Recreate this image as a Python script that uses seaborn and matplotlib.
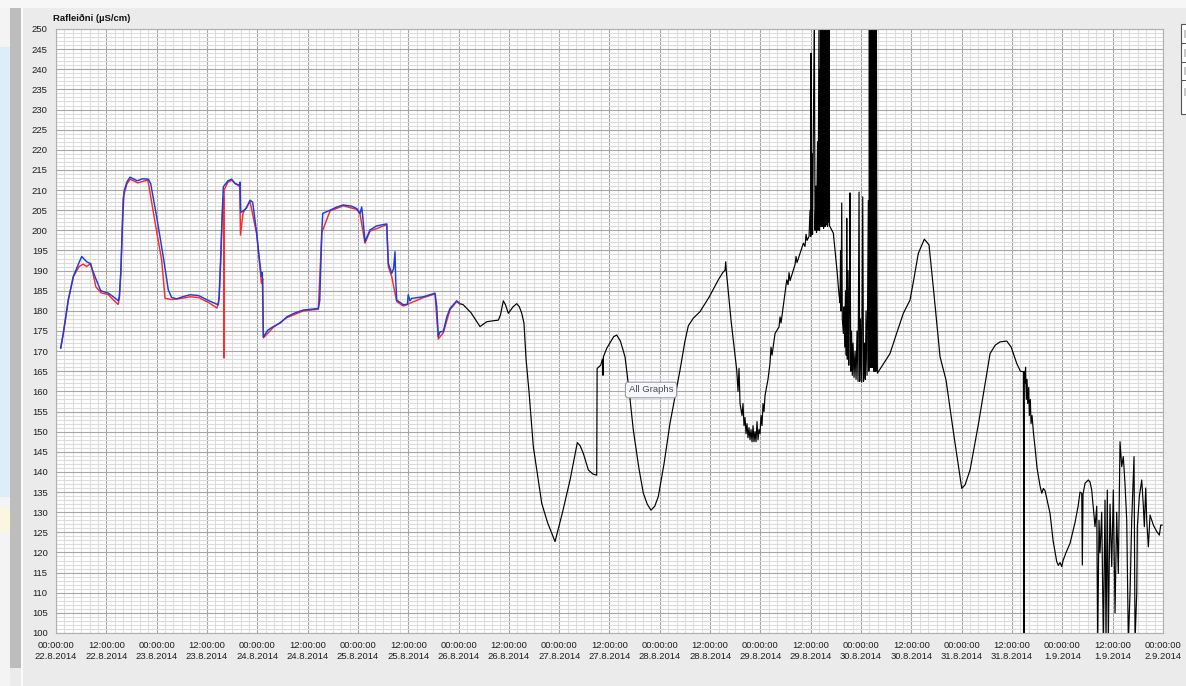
import matplotlib
matplotlib.use("Agg")
import numpy as np
import pandas as pd
import matplotlib.pyplot as plt
import matplotlib.dates as mdates
from matplotlib.ticker import FuncFormatter, MultipleLocator
from matplotlib.patches import Rectangle
import seaborn as sns

# ---------------- data (hours after 22.8.2014 00:00, conductivity µS/cm) ----------------
start_time = "2014-08-22 00:00:00"
total_hours = 264

blue_hours = [1.12, 1.74, 2.93, 4.13, 5.5, 6.13, 7.32, 8.11, 9.3, 10.66, 12.48, 13.67, 14.86, 15.1,
              15.43, 15.9, 16.22, 16.9, 17.65, 19.39, 20.6, 22.01, 22.58, 24.0, 25.59, 26.78, 27.59,
              28.8, 30.5, 32.0, 34.0, 36.5, 38.71, 38.9, 39.28, 39.6, 39.9, 41.0, 41.9, 42.69, 43.8,
              43.9, 44.05, 44.6, 45.4, 46.27, 46.9, 47.87, 48.4, 49.0, 49.2, 49.45, 50.5, 51.83, 53.5,
              55.02, 57.0, 58.98, 62.56, 62.9, 63.4, 63.61, 65.35, 67.0, 68.52, 70.5, 71.72, 72.51,
              72.9, 73.1, 73.69, 74.88, 76.48, 78.87, 79.25, 80.06, 80.5, 80.85, 81.0, 81.25, 82.83,
              83.8, 84.0, 84.4, 84.83, 87.6, 90.39, 90.8, 91.18, 91.6, 92.37, 93.2, 93.97, 95.56, 96.35]
blue_values = [170.7, 174.4, 182.7, 188.5, 192.0, 193.5, 192.2, 191.8, 188.5, 185.0, 184.4, 183.5, 182.5, 183.5,
               189.3, 202.6, 209.6, 212.0, 213.2, 212.3, 212.8, 212.7, 211.6, 203.4, 193.4, 185.2, 183.3,
               183.0, 183.6, 184.0, 183.8, 182.5, 181.5, 183.5, 193.4, 203.0, 210.8, 212.3, 212.7, 211.6, 211.2,
               212.0, 204.5, 204.8, 205.5, 207.5, 207.0, 199.3, 193.8, 188.5, 189.5, 173.5, 175.2, 176.1, 177.0,
               178.5, 179.5, 180.2, 180.6, 182.5, 200.0, 204.2, 205.0, 205.8, 206.3, 206.0, 205.4, 204.2,
               205.8, 204.0, 197.2, 200.1, 201.1, 201.6, 191.8, 189.3, 190.5, 194.7, 188.0, 182.7, 181.5,
               181.6, 184.0, 182.5, 183.1, 183.5, 184.4, 181.0, 173.6, 174.8, 174.9, 178.5, 180.6, 182.5, 181.8]

red_hours = [1.12, 1.74, 2.93, 4.13, 5.5, 6.5, 7.3, 8.3, 9.5, 10.7, 12.5, 13.7, 14.8, 15.1, 15.5, 16.0,
             16.9, 17.7, 19.5, 21.9, 22.4, 23.8, 25.2, 26.0, 27.6, 30.5, 32.0, 34.0, 36.5, 38.4, 38.9,
             39.3, 39.6, 39.9, 40.05, 40.07, 40.1, 41.0, 41.9, 43.8, 44.0, 44.6, 46.27, 47.87, 49.0,
             49.3, 49.45, 51.83, 55.02, 58.98, 62.56, 63.4, 65.35, 68.52, 71.72, 72.51, 73.69, 74.88,
             78.87, 79.25, 80.06, 81.25, 82.83, 87.6, 90.39, 91.18, 92.37, 93.97, 95.56, 96.35]
red_values = [170.7, 174.4, 182.7, 188.5, 191.0, 191.6, 191.0, 191.8, 186.0, 184.5, 184.0, 182.7, 181.6, 183.0, 190.0, 208.0,
              211.5, 212.7, 211.8, 212.5, 209.5, 200.9, 192.6, 183.1, 182.8, 183.2, 183.5, 183.3, 182.0, 180.7, 183.0,
              192.5, 202.5, 208.0, 208.0, 168.3, 210.0, 212.0, 212.4, 210.8, 198.8, 204.3, 207.2, 199.0, 186.8,
              188.0, 173.3, 175.9, 178.3, 180.0, 180.4, 199.5, 204.8, 206.1, 205.2, 204.0, 196.8, 199.8,
              201.4, 191.0, 188.5, 182.3, 181.2, 183.3, 184.2, 173.0, 174.6, 180.3, 182.3, 181.6]

black_hours = [96.35, 97.14, 99.0, 101.12, 102.72, 104.0, 105.49, 106.0, 106.68, 107.2, 107.87, 109.0, 109.88,
               110.5, 111.07, 111.6, 112.1, 112.8, 113.83, 115.84, 117.2, 119.01, 120.8, 122.59, 124.33, 125.0,
               125.76, 126.95, 128.0, 128.95, 129.05, 129.9, 130.3, 130.45, 130.55, 131.34, 133.0, 133.72, 134.6,
               135.7, 136.7, 137.68, 139.0, 140.07, 141.0, 141.9, 142.8, 143.64, 145.0, 146.43, 148.82, 150.0,
               150.8, 152.0, 153.59, 155.8, 157.95, 159.0, 159.55, 159.72, 159.85, 161.0, 162.34,
               # bottom of 29.8 trough
               162.65, 162.89, 163.13, 163.6, 163.84, 164.08, 164.32, 164.56, 164.79, 165.03, 165.27, 165.51,
               165.75, 165.99, 166.23, 166.46, 166.7, 166.94, 167.18, 167.42, 167.66, 167.9, 168.13, 168.37,
               168.61, 168.85, 169.09, 169.8, 170.28, 170.52, 170.76, 171.48,
               # rise with spikes 29.8
               172.43, 172.67, 172.91, 174.27, 174.58, 174.82, 175.06, 176.25, 176.49, 176.73, 178.23, 178.63,
               178.87, 179.11, 179.59, 179.83, 180.0, 180.06, 180.18, 180.3, 180.42, 180.85, 181.01, 181.25,
               181.37, 181.61, 181.73, 181.97, 182.09, 182.21, 182.33, 182.45, 182.57, 182.69, 182.81, 182.93,
               183.05, 183.16, 183.28, 183.4, 183.52, 183.64, 183.76, 183.88, 184.0, 184.12, 184.24, 184.35,
               184.47, 184.59,
               # descent and 30.8 spikes
               185.38, 186.26, 186.74, 186.98, 187.1, 187.22, 187.38, 187.52, 187.77, 187.93, 188.1, 188.29,
               188.46, 188.58, 188.72, 188.89, 189.06, 189.2, 189.36, 189.53, 189.72, 189.91, 190.08, 190.32,
               190.56, 190.8, 191.03, 191.27, 191.51, 191.68, 191.87, 192.15, 192.39, 192.58, 192.82, 193.01,
               193.18, 193.42, 193.73, 193.85, 193.97, 194.09, 194.21, 194.33, 194.45, 194.57, 194.69, 194.81,
               194.92, 195.04, 195.16, 195.28, 195.4, 195.52, 195.64, 195.76, 195.88,
               # smooth part 30.8 - 31.8
               198.9, 200.5, 202.08, 203.67, 204.6, 205.65, 207.08, 208.2, 209.3, 210.83, 212.26, 214.0,
               216.01, 216.8, 217.99, 220.0, 222.76, 224.0, 225.14, 226.74, 227.8, 229.13, 230.0, 230.7,
               # 31.8 noisy descent
               230.86, 230.93, 231.1, 231.22, 231.41, 231.58, 231.74, 231.98, 232.12, 232.36, 232.53, 232.77,
               233.08, 233.49, 233.96, 234.68, 235.09, 235.47, 235.88, 236.36, 237.06, 237.78, 238.66, 239.04,
               239.45, 239.86, 240.17, 240.89, 241.84, 243.03, 243.75,
               # 1.9 heavy noise
               244.21, 244.62, 244.76, 244.93, 245.41, 246.19, 246.6, 247.0, 247.39, 247.79, 248.2, 248.43,
               248.74, 248.98, 249.38, 249.77, 250.17, 250.41, 250.72, 250.96, 251.36, 251.77, 252.15, 252.56,
               252.96, 253.34, 253.75, 254.15, 254.53, 254.94, 255.35, 255.73, 256.14, 256.54, 257.09, 257.33,
               257.74, 257.88, 258.36, 258.93, 259.31, 259.55, 259.88, 260.12, 260.51, 260.91, 261.31, 261.7,
               262.51, 263.13, 263.46, 263.85]
black_values = [181.8, 181.5, 179.5, 176.1, 177.3, 177.5, 177.7, 179.0, 182.5, 181.5, 179.4, 181.0, 181.8,
                181.0, 179.4, 177.0, 168.0, 160.0, 146.3, 132.2, 127.5, 122.7, 130.0, 138.0, 147.3, 146.5,
                144.6, 140.5, 139.5, 139.2, 165.7, 166.5, 168.0, 164.0, 168.6, 170.7, 173.6, 174.0, 172.5,
                168.6, 160.0, 150.4, 141.0, 134.7, 132.0, 130.5, 131.5, 133.9, 142.0, 152.1, 165.3, 172.5,
                176.3, 178.2, 179.8, 183.5, 187.7, 189.5, 190.1, 192.2, 190.0, 177.5, 165.3,
                160.0, 165.7, 157.0, 154.0, 157.0, 151.5, 153.5, 149.5, 152.0, 148.5, 151.0, 148.0,
                150.5, 147.5, 151.5, 147.5, 150.0, 147.5, 152.5, 148.0, 150.5, 149.5, 154.0, 151.5,
                157.0, 155.0, 159.0, 163.0, 167.0, 171.0, 169.0, 174.4,
                176.0, 178.5, 177.0, 187.7, 186.5, 189.5, 187.5, 191.5, 193.5, 192.0, 196.8, 196.0,
                199.0, 197.5, 198.5, 205.0, 198.5, 244.0, 199.0, 219.0, 199.0, 255.0, 200.0, 211.0,
                199.5, 222.0, 200.0, 255.0, 200.0, 240.0, 201.0, 255.0, 201.0, 230.0, 201.0, 255.0,
                200.5, 225.0, 201.0, 255.0, 201.0, 235.0, 201.5, 255.0, 201.0, 218.0, 202.0, 255.0,
                201.0, 200.9,
                199.3, 190.0, 184.0, 182.0, 195.0, 180.0, 206.8, 178.0, 174.4, 181.0, 171.0, 185.0,
                169.0, 203.0, 168.0, 190.0, 166.5, 180.0, 209.3, 165.0, 175.0, 164.0, 172.0, 163.5,
                170.0, 163.0, 175.0, 162.5, 209.5, 162.5, 178.0, 162.3, 208.3, 162.5, 172.0, 163.0,
                180.0, 164.0, 207.4, 165.0, 255.0, 166.0, 255.0, 166.0, 255.0, 166.0, 255.0, 166.0,
                255.0, 165.0, 255.0, 165.0, 255.0, 165.0, 255.0, 190.0, 164.5,
                169.4, 174.5, 179.4, 182.7, 188.0, 194.3, 197.8, 196.4, 185.0, 168.6, 162.8, 150.0,
                135.9, 136.8, 140.5, 152.0, 169.4, 171.5, 172.3, 172.5, 171.0, 166.9, 165.0, 164.9,
                98.0, 165.0, 162.0, 166.0, 158.0, 163.0, 157.0, 161.0, 154.0, 158.0, 152.0, 154.0,
                150.0, 146.0, 141.0, 136.5, 134.7, 135.9, 135.3, 133.0, 129.7, 123.0, 117.7, 116.8,
                117.5, 116.5, 118.0, 120.0, 122.3, 127.5, 131.5,
                135.0, 134.7, 116.9, 134.5, 137.2, 138.0, 137.5, 135.5, 131.0, 126.4, 131.5, 98.0,
                128.0, 119.9, 130.0, 98.0, 133.0, 98.0, 135.5, 98.0, 132.0, 116.5, 135.5, 105.0,
                130.0, 114.8, 147.5, 141.3, 143.8, 137.0, 128.0, 98.0, 109.9, 128.0, 143.8, 98.0,
                110.0, 126.4, 133.9, 138.0, 131.5, 126.4, 136.0, 128.0, 121.4, 129.3, 128.0, 126.8,
                125.2, 124.3, 126.8, 126.8]

y_min, y_max = 100, 250
title_text = "Rafleiðni (µS/cm)"
tooltip_text = "All Graphs"

# ---------------- build frames ----------------
t0 = pd.Timestamp(start_time)
def frame(hours, values):
    return pd.DataFrame({"time": t0 + pd.to_timedelta(np.array(hours), unit="h"),
                         "value": np.array(values, dtype=float)})

df_red = frame(red_hours, red_values)
df_blue = frame(blue_hours, blue_values)
df_black = frame(black_hours, black_values)

# ---------------- style ----------------
sns.set_style("white")
plt.rcParams["font.family"] = ["Liberation Sans", "DejaVu Sans"]

W, H = 1186, 686
fig = plt.figure(figsize=(W / 100, H / 100), dpi=100, facecolor="#ebebeb")
ax = fig.add_axes([56 / W, 53 / H, 1107 / W, 604 / H])
ax.set_facecolor("white")

sns.lineplot(data=df_black, x="time", y="value", color="black", lw=0.85,
             estimator=None, sort=False, ax=ax)
sns.lineplot(data=df_red, x="time", y="value", color="#ff2a2a", lw=1.05,
             estimator=None, sort=False, ax=ax)
sns.lineplot(data=df_blue, x="time", y="value", color="#1a3de6", lw=1.05,
             estimator=None, sort=False, ax=ax)

x0 = mdates.date2num(t0)
x1 = mdates.date2num(t0 + pd.Timedelta(hours=total_hours))
ax.set_xlim(x0, x1)
ax.set_ylim(y_min, y_max)
ax.set_xlabel("")
ax.set_ylabel("")

ax.xaxis.set_major_locator(mdates.HourLocator(byhour=[0, 12]))
ax.xaxis.set_minor_locator(mdates.HourLocator(byhour=range(0, 24, 2)))

def fmt_date(x, pos):
    d = mdates.num2date(x)
    return f"{d:%H:%M:%S}\n{d.day}.{d.month}.{d.year}"

ax.xaxis.set_major_formatter(FuncFormatter(fmt_date))
ax.yaxis.set_major_locator(MultipleLocator(5))
ax.yaxis.set_minor_locator(MultipleLocator(1))

ax.set_axisbelow(True)
ax.grid(which="minor", color="#dcdcdc", lw=0.8)
ax.grid(which="major", color="#a6a6a6", lw=0.8)

ax.tick_params(axis="both", which="major", length=4, width=0.8, color="#9a9a9a",
               labelsize=6.8, labelcolor="#1e1e1e", direction="out", pad=2)
ax.tick_params(axis="both", which="minor", length=0)
for lbl in ax.get_xticklabels():
    lbl.set_linespacing(1.25)

for s in ax.spines.values():
    s.set_color("#b0b0b0")
    s.set_linewidth(0.8)

# title above plot
fig.text(53 / W, 1 - 18 / H, title_text, fontsize=6.8, fontweight="bold",
         ha="left", va="center", color="#111111")

# tooltip
fig.text(651 / W, 1 - 390 / H, tooltip_text, fontsize=6.8, color="#4a4a55",
         ha="center", va="center",
         bbox=dict(boxstyle="round,pad=0.35,rounding_size=0.3", fc="#f5f7fc",
                   ec="#9c9ca6", lw=0.8))

# window chrome: top strip, left panel & scrollbar, right legend box
def rect(x, y, w, h, fc, ec="none", lw=0.0, z=0):
    fig.add_artist(Rectangle((x / W, 1 - (y + h) / H), w / W, h / H,
                             transform=fig.transFigure, fc=fc, ec=ec, lw=lw, zorder=z))

rect(0, 0, W, 8, "#f7f7f7")
rect(0, 8, 10, 678, "#f4f4f4")
rect(0, 47, 10, 450, "#ddeef9")
rect(0, 508, 10, 24, "#fbf6de")
rect(10, 8, 11, 660, "#bdbdbd")
rect(21, 8, 2, 678, "#fafafa")
rect(1181, 24, 6, 90, "white", ec="#555555", lw=0.8, z=3)
for yy in (43, 62, 80):
    rect(1181, yy, 6, 0.8, "#555555", z=4)
for yy in (30, 49, 67, 88):
    rect(1183.5, yy, 3, 8, "#c8c8c8", z=4)

fig.savefig("out.png", dpi=100, facecolor=fig.get_facecolor())
